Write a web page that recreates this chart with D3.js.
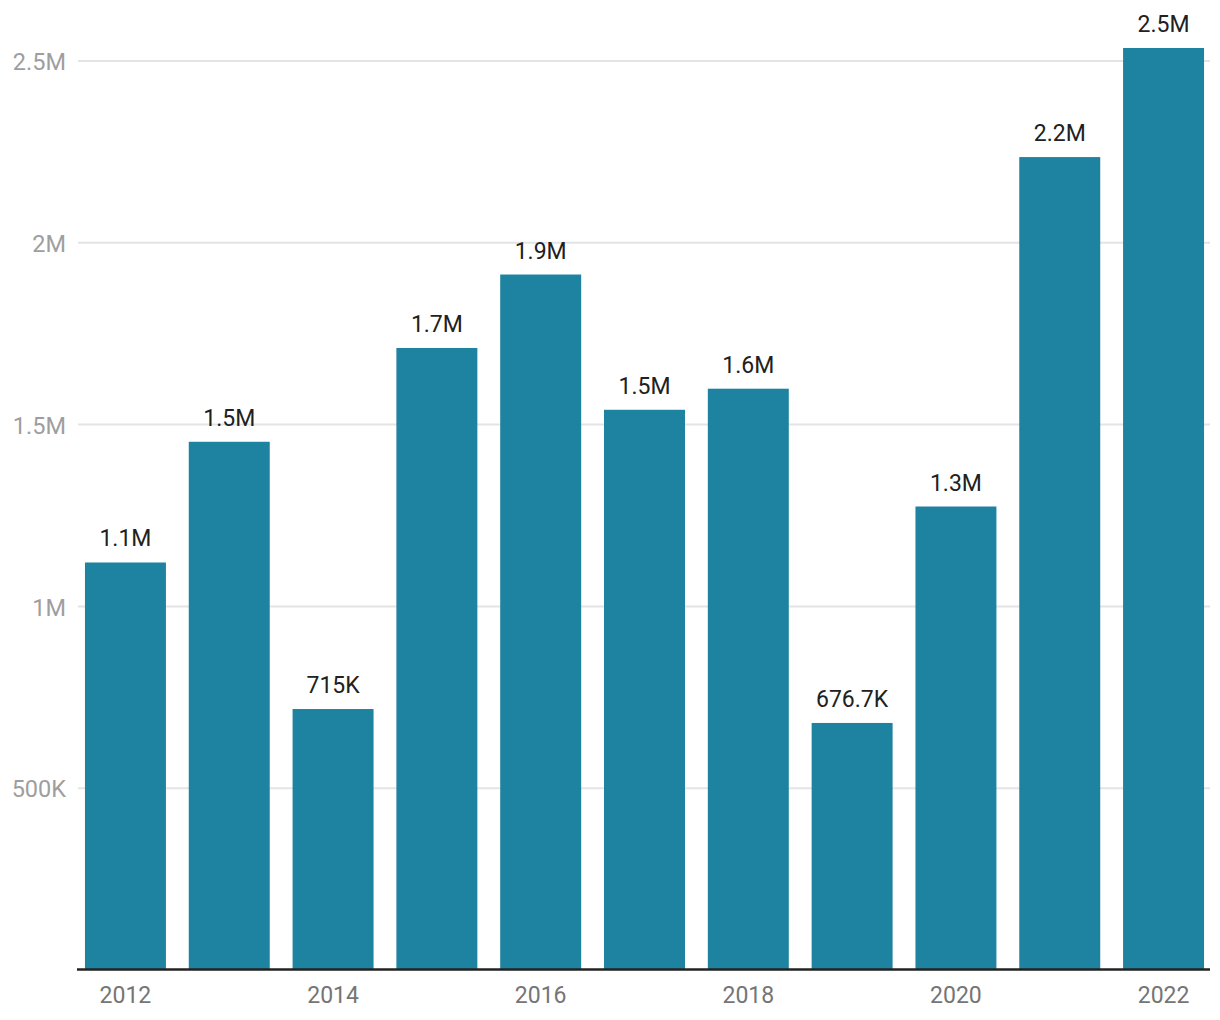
<!DOCTYPE html>
<html><head><meta charset="utf-8">
<script src="https://cdn.jsdelivr.net/npm/d3@7"></script>
<style>body{margin:0;background:#fff;}svg{display:block;font-family:Roboto,"Noto Sans",sans-serif;}</style>
</head><body><svg id="c" width="1220" height="1020"></svg>
<script>
const years = ["2012","2013","2014","2015","2016","2017","2018","2019","2020","2021","2022"];
const values = [1118000,1450000,715000,1708000,1910000,1538000,1596000,676700,1272000,2233000,2533000];
const labels = ["1.1M","1.5M","715K","1.7M","1.9M","1.5M","1.6M","676.7K","1.3M","2.2M","2.5M"];
const yTicks = [500000,1000000,1500000,2000000,2500000];
const yTickLabels = ["500K","1M","1.5M","2M","2.5M"];
const xTickYears = ["2012","2014","2016","2018","2020","2022"];

const svg = d3.select("#c");
const x = d3.scaleBand().domain(years).range([78,1211]).paddingInner(0.22).paddingOuter(0.067);
const y = d3.scaleLinear().domain([0,2500000]).range([969,60]);

// gridlines
svg.append("g").selectAll("line").data(yTicks).join("line")
  .attr("x1",78).attr("x2",1210).attr("y1",d=>y(d)+1).attr("y2",d=>y(d)+1)
  .attr("stroke","#e4e4e4").attr("stroke-width",2);
svg.append("g").selectAll("text").data(yTicks).join("text")
  .attr("x",66).attr("y",d=>y(d)+2).attr("dy","0.35em").attr("text-anchor","end")
  .attr("fill","#9e9e9e").attr("font-size",23.5).text((d,i)=>yTickLabels[i]);

// bars
svg.append("g").selectAll("rect").data(values).join("rect")
  .attr("x",(d,i)=>x(years[i])).attr("width",x.bandwidth())
  .attr("y",d=>y(d)).attr("height",d=>y(0)-y(d)).attr("fill","#1e82a1");

// value labels
svg.append("g").selectAll("text").data(values).join("text")
  .attr("x",(d,i)=>x(years[i])+x.bandwidth()/2).attr("y",d=>y(d)-16)
  .attr("text-anchor","middle").attr("fill","#212121").attr("font-size",23)
  .text((d,i)=>labels[i]);

// x axis
const xAxis = d3.axisBottom(x).tickValues(xTickYears).tickSize(0).tickPadding(18);
const gx = svg.append("g").attr("transform","translate(0,969)").call(xAxis);
gx.select(".domain").attr("d","M77,0.5H1210").attr("stroke","#222").attr("stroke-width",2.5);
gx.selectAll("text").attr("fill","#757575").attr("font-size",23).attr("font-family","Roboto,sans-serif");
</script></body></html>
